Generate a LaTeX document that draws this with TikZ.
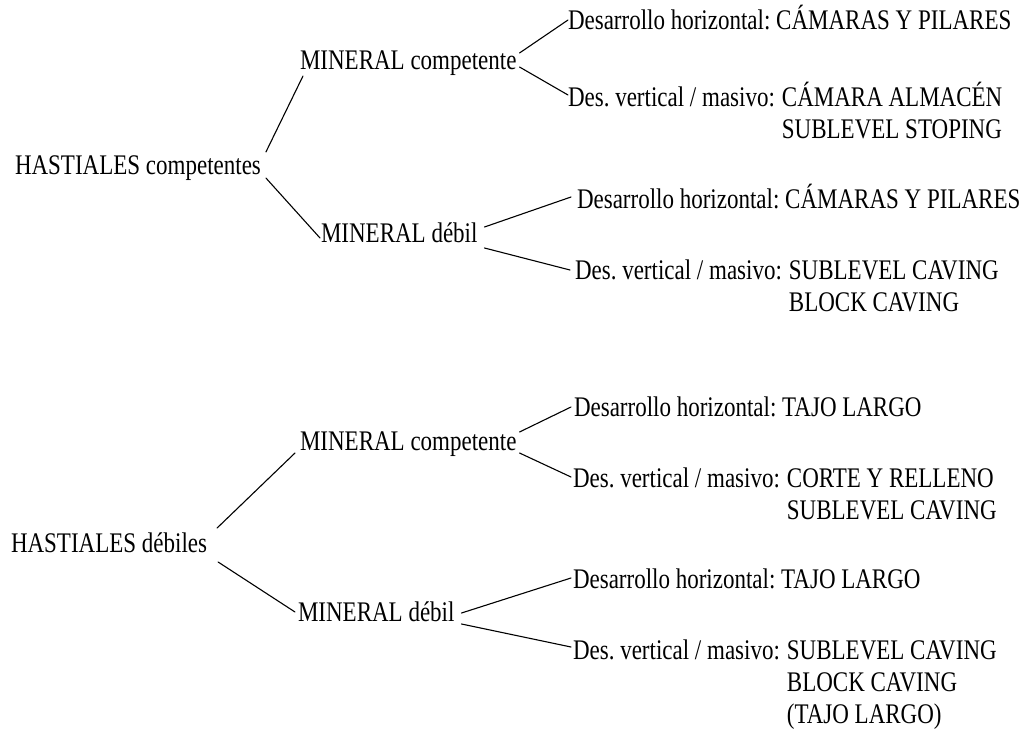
\documentclass[tikz,border=0pt]{standalone}
\usepackage{fontspec}
\setmainfont{Liberation Serif}[FakeStretch=0.81]
\usetikzlibrary{calc}
\begin{document}
\frenchspacing
\begin{tikzpicture}[x=1bp,y=-1bp,
  lbl/.style={inner sep=0pt, outer sep=0pt, anchor=base west, font=\fontsize{28.5}{32}\selectfont},
  conn/.style={line width=1.1bp, line cap=round}]
\fill[white] (0,0) rectangle (1027,731);
\useasboundingbox (0,0) rectangle (1027,731);
\def\gap{7}
\def\lsk{32}
% ---------- top tree ----------
\node[lbl] (hc)  at (15,175)  {HASTIALES competentes};
\node[lbl] (mc1) at (300,70)  {MINERAL competente};
\node[lbl] (md1) at (321,242) {MINERAL débil};
\node[lbl] (d1)  at (568,30)  {Desarrollo horizontal: CÁMARAS Y PILARES};
\node[lbl] (v1)  at (568,107) {Des. vertical / masivo:};
\node[lbl] (m1a) at ($(v1.base east)+(\gap,0)$) {CÁMARA ALMACÉN};
\node[lbl] (m1b) at ($(m1a.base west)+(0,\lsk)$) {SUBLEVEL STOPING};
\node[lbl] (d2)  at (577,208) {Desarrollo horizontal: CÁMARAS Y PILARES};
\node[lbl] (v2)  at (575,279) {Des. vertical / masivo:};
\node[lbl] (m2a) at ($(v2.base east)+(\gap,0)$) {SUBLEVEL CAVING};
\node[lbl] (m2b) at ($(m2a.base west)+(0,\lsk)$) {BLOCK CAVING};
% ---------- bottom tree ----------
\node[lbl] (hd)  at (11,552)  {HASTIALES débiles};
\node[lbl] (mc2) at (300,450) {MINERAL competente};
\node[lbl] (md2) at (298,621) {MINERAL débil};
\node[lbl] (d3)  at (574,416) {Desarrollo horizontal: TAJO LARGO};
\node[lbl] (v3)  at (573,487) {Des. vertical / masivo:};
\node[lbl] (m3a) at ($(v3.base east)+(\gap,0)$) {CORTE Y RELLENO};
\node[lbl] (m3b) at ($(m3a.base west)+(0,\lsk)$) {SUBLEVEL CAVING};
\node[lbl] (d4)  at (573,588) {Desarrollo horizontal: TAJO LARGO};
\node[lbl] (v4)  at (573,659) {Des. vertical / masivo:};
\node[lbl] (m4a) at ($(v4.base east)+(\gap,0)$) {SUBLEVEL CAVING};
\node[lbl] (m4b) at ($(m4a.base west)+(0,\lsk)$) {BLOCK CAVING};
\node[lbl] (m4c) at ($(m4b.base west)+(0,\lsk)$) {(TAJO LARGO)};
% ---------- connectors ----------
\draw[conn] ($(hc.base east)+(5,-23)$)  -- ($(mc1.base west)+(3,6)$);
\draw[conn] ($(hc.base east)+(5,3)$)    -- ($(md1.base west)+(-1,-4)$);
\draw[conn] ($(mc1.base east)+(3,-17)$) -- ($(d1.base west)+(0,-10)$);
\draw[conn] ($(mc1.base east)+(3,-3)$)  -- ($(v1.base west)+(0,-12)$);
\draw[conn] ($(md1.base east)+(7,-15)$) -- ($(d2.base west)+(-6,-11)$);
\draw[conn] ($(md1.base east)+(7,6)$)   -- ($(v2.base west)+(-5,-9)$);
\draw[conn] ($(hd.base east)+(10,-24)$) -- ($(mc2.base west)+(-5,3)$);
\draw[conn] ($(hd.base east)+(11,10)$)  -- ($(md2.base west)+(-3,-9)$);
\draw[conn] ($(mc2.base east)+(3,-18)$) -- ($(d3.base west)+(-3,-9)$);
\draw[conn] ($(mc2.base east)+(3,3)$)   -- ($(v3.base west)+(-2,-10)$);
\draw[conn] ($(md2.base east)+(7,-8)$)  -- ($(d4.base west)+(-2,-10)$);
\draw[conn] ($(md2.base east)+(7,3)$)   -- ($(v4.base west)+(-2,-12)$);
\end{tikzpicture}
\end{document}
